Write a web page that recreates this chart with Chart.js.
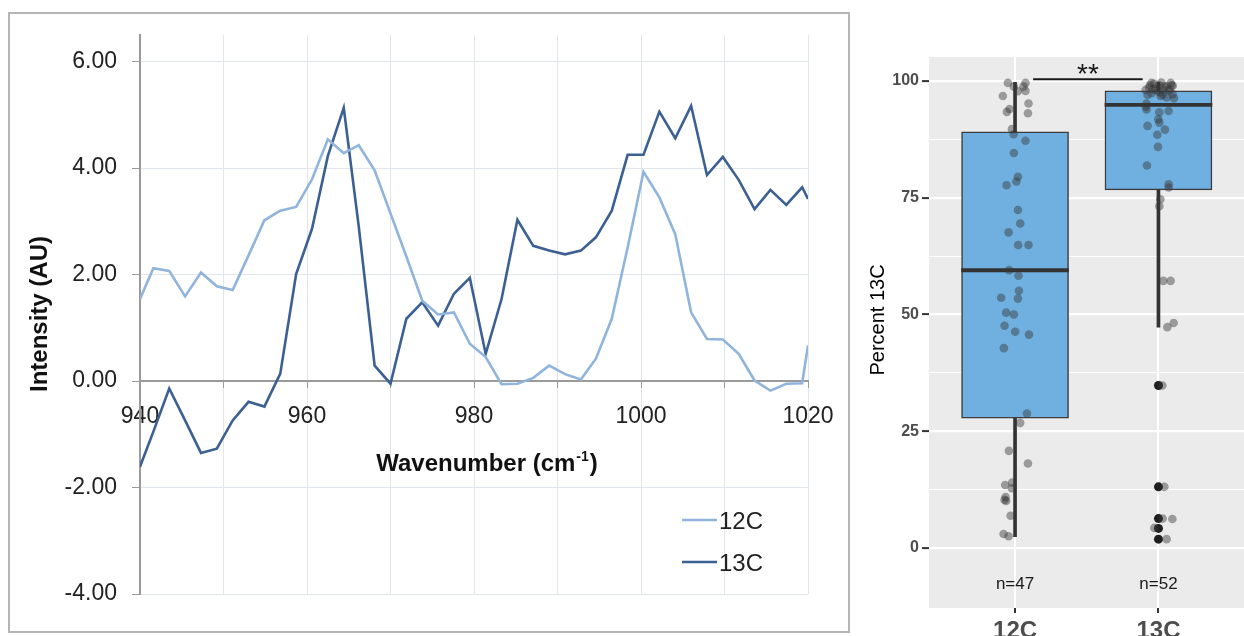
<!DOCTYPE html>
<html>
<head>
<meta charset="utf-8">
<script src="https://cdn.jsdelivr.net/npm/chart.js@4/dist/chart.umd.min.js"></script>
<style>
  html, body { margin: 0; padding: 0; background: #fff; }
  #wrap { position: relative; width: 1244px; height: 636px; overflow: hidden; }
  #spectrum { position: absolute; left: 0; top: 0; }
  #boxes { position: absolute; left: 855px; top: 0; }
</style>
</head>
<body>
<div id="wrap">
  <canvas id="spectrum" width="855" height="636"></canvas>
  <canvas id="boxes" width="394" height="636"></canvas>
</div>
<script>
// Spectrum data (left panel)
const wavenumbers = [940.0, 941.6, 943.5, 945.4, 947.3, 949.2, 951.1, 953.0, 954.9, 956.8,
  958.7, 960.6, 962.5, 964.4, 966.2, 968.1, 970.0, 971.9, 973.8, 975.7,
  977.6, 979.5, 981.4, 983.3, 985.2, 987.1, 989.0, 990.9, 992.8, 994.6,
  996.5, 998.4, 1000.3, 1002.2, 1004.1, 1006.0, 1007.9, 1009.8, 1011.7, 1013.6,
  1015.5, 1017.4, 1019.3, 1020.0];
const intensity12C = [1.54, 2.12, 2.07, 1.59, 2.04, 1.78, 1.71, 2.36, 3.02, 3.20,
  3.27, 3.79, 4.54, 4.28, 4.43, 3.96, 3.15, 2.34, 1.51, 1.25,
  1.29, 0.70, 0.45, -0.06, -0.05, 0.06, 0.29, 0.13, 0.03, 0.42,
  1.17, 2.51, 3.93, 3.45, 2.76, 1.29, 0.79, 0.78, 0.51, 0.01,
  -0.18, -0.05, -0.04, 0.67];
const intensity13C = [-1.61, -0.95, -0.14, -0.74, -1.35, -1.27, -0.74, -0.39, -0.48, 0.14,
  2.01, 2.86, 4.23, 5.13, 2.90, 0.29, -0.05, 1.17, 1.48, 1.04,
  1.64, 1.94, 0.51, 1.54, 3.03, 2.54, 2.45, 2.38, 2.45, 2.70,
  3.20, 4.25, 4.25, 5.06, 4.56, 5.17, 3.87, 4.21, 3.78, 3.23,
  3.59, 3.31, 3.64, 3.42];
const seriesNames = ['12C', '13C'];
const wavenumberGrid = [940, 950, 960, 970, 980, 990, 1000, 1010, 1020];
const wavenumberLabels = [940, 960, 980, 1000, 1020];
const intensityTicks = [-4, -2, 0, 2, 4, 6];

// Box plot data (right panel)
const groups = ['12C', '13C'];
const groupCounts = [47, 52];
const boxQ1 = [27.8, 76.7];
const boxMedian = [59.5, 94.9];
const boxQ3 = [89.1, 97.9];
const whiskerLow = [2.4, 47.3];
const whiskerHigh = [99.7, 99.7];
const percentTicks = [0, 25, 50, 75, 100];
const percentMinor = [12.5, 37.5, 62.5, 87.5];
// jittered observations: [offset from group centre, percent 13C]
const jitter12C = [[-0.050, 99.6], [-0.008, 98.8], [0.073, 99.6], [0.059, 98.8], [0.020, 97.8],
  [0.073, 97.9], [-0.085, 96.8], [0.094, 95.2], [-0.038, 94.0], [-0.057, 93.4],
  [0.090, 93.1], [-0.022, 89.7], [-0.010, 88.6], [0.073, 87.2], [-0.008, 84.6],
  [0.020, 79.5], [0.010, 78.5], [-0.059, 77.7], [0.020, 72.4], [0.036, 69.5],
  [-0.045, 67.6], [0.022, 64.9], [0.094, 64.9], [-0.041, 59.5], [0.024, 58.3],
  [0.027, 55.1], [-0.097, 53.6], [0.020, 53.4], [-0.062, 50.4], [-0.008, 50.0],
  [-0.073, 47.6], [0.001, 46.3], [0.097, 45.7], [-0.078, 42.8], [0.083, 28.8],
  [0.036, 26.8], [-0.043, 20.8], [0.090, 18.1], [-0.069, 13.5], [-0.020, 14.0],
  [-0.022, 12.8], [-0.066, 10.9], [-0.073, 10.3], [-0.062, 10.1], [-0.031, 6.9],
  [-0.080, 3.0], [-0.045, 2.5]];
const jitter13C = [[-0.048, 99.6], [0.085, 99.6], [-0.059, 99.1], [0.006, 99.1], [0.057, 98.8],
  [-0.090, 98.1], [-0.024, 98.4], [0.034, 98.1], [0.092, 99.1], [-0.076, 97.0],
  [-0.048, 97.4], [0.015, 96.8], [0.057, 96.5], [0.099, 97.2], [0.108, 96.3],
  [-0.083, 95.2], [-0.087, 94.5], [-0.083, 93.9], [0.006, 93.3], [0.071, 93.6],
  [-0.001, 91.8], [0.006, 91.1], [-0.076, 90.4], [0.045, 89.6], [-0.008, 88.5],
  [-0.003, 85.9], [-0.080, 81.9], [0.071, 77.9], [0.071, 77.2], [0.013, 74.7],
  [0.006, 73.2], [0.034, 57.2], [0.085, 57.2], [0.106, 48.2], [0.062, 47.3],
  [0.027, 34.8], [0.041, 13.1], [0.029, 6.3], [0.097, 6.2], [-0.029, 4.3],
  [0.057, 1.9], [-0.030, 99.4], [0.020, 99.7], [0.040, 98.9], [-0.010, 98.0],
  [0.070, 98.2], [-0.065, 98.6], [0.010, 97.6], [0.080, 98.0], [-0.040, 98.2],
  [0.030, 97.1], [0.100, 99.0]];
const outliers13C = [34.8, 13.1, 6.3, 4.2, 1.9];
const countLabelLevel = -7.8;
const signifFrom = 1.126, signifTo = 1.89, signifLevel = 100.4;
const signifText = '**';

const sans = "'Liberation Sans', Arial, Helvetica, sans-serif";
const lineColors = ['#90b4dc', '#3b6091'];

// Left panel: frame, axis titles, legend
const spectrumDecor = {
    id: 'spectrumDecor',
    beforeDraw(chart) {
        const ctx = chart.ctx;
        ctx.save();
        ctx.strokeStyle = '#b5b5b5';
        ctx.lineWidth = 2;
        ctx.strokeRect(9, 13, 840, 619);
        ctx.restore();
    },
    afterDraw(chart) {
        const ctx = chart.ctx;
        ctx.save();
        ctx.fillStyle = '#111';

        // y title
        ctx.translate(40, 314);
        ctx.rotate(-Math.PI / 2);
        ctx.font = 'bold 24px ' + sans;
        ctx.textAlign = 'center';
        ctx.textBaseline = 'middle';
        ctx.fillText('Intensity (AU)', 0, 0);
        ctx.setTransform(1, 0, 0, 1, 0, 0);

        // x title with superscript
        const main = 'Wavenumber (cm';
        const sup = '-1';
        ctx.font = 'bold 24px ' + sans;
        const w1 = ctx.measureText(main).width;
        const w3 = ctx.measureText(')').width;
        ctx.font = 'bold 14px ' + sans;
        const w2 = ctx.measureText(sup).width;
        let x = 486 - (w1 + w2 + w3) / 2;
        ctx.textAlign = 'left';
        ctx.textBaseline = 'alphabetic';
        ctx.font = 'bold 24px ' + sans;
        ctx.fillText(main, x, 471);
        ctx.font = 'bold 14px ' + sans;
        ctx.fillText(sup, x + w1 + 1, 461);
        ctx.font = 'bold 24px ' + sans;
        ctx.fillText(')', x + w1 + w2 + 2, 471);

        // legend
        ctx.font = '24px ' + sans;
        ctx.textBaseline = 'middle';
        chart.data.datasets.forEach((ds, i) => {
            const y = 520 + i * 42;
            ctx.strokeStyle = ds.borderColor;
            ctx.lineWidth = 2.5;
            ctx.beginPath();
            ctx.moveTo(682, y);
            ctx.lineTo(717, y);
            ctx.stroke();
            ctx.fillStyle = '#222';
            ctx.fillText(ds.label, 719, y + 2);
        });
        ctx.restore();
    }
};

new Chart(document.getElementById('spectrum'), {
    type: 'line',
    data: {
        datasets: [intensity12C, intensity13C].map((vals, i) => ({
            label: seriesNames[i],
            data: wavenumbers.map((w, j) => ({ x: w, y: vals[j] })),
            borderColor: lineColors[i],
            borderWidth: 2.6,
            pointRadius: 0,
            tension: 0
        }))
    },
    options: {
        responsive: false,
        animation: false,
        devicePixelRatio: 1,
        layout: { padding: { left: 0, right: 47, top: 35, bottom: 42 } },
        plugins: { legend: { display: false }, tooltip: { enabled: false } },
        scales: {
            x: {
                type: 'linear',
                min: 940,
                max: 1020,
                position: { y: 0 },
                afterBuildTicks: s => { s.ticks = wavenumberGrid.map(v => ({ value: v })); },
                ticks: {
                    callback: v => wavenumberLabels.includes(v) ? String(v) : '',
                    font: { family: sans, size: 23 },
                    color: '#222',
                    padding: 16,
                    maxRotation: 0,
                    autoSkip: false
                },
                grid: { color: '#e0e6eb', lineWidth: 1, tickLength: 6, tickColor: '#9a9a9a' },
                border: { color: '#9a9a9a', width: 2 }
            },
            y: {
                type: 'linear',
                min: -4,
                max: 6.5,
                afterBuildTicks: s => { s.ticks = intensityTicks.map(v => ({ value: v })); },
                afterFit: s => { s.width = 140; },
                ticks: {
                    callback: v => v.toFixed(2),
                    font: { family: sans, size: 23 },
                    color: '#222',
                    padding: 15
                },
                grid: { color: '#e0e6eb', lineWidth: 1, tickLength: 8, tickColor: '#9a9a9a' },
                border: { color: '#9a9a9a', width: 2 }
            }
        }
    },
    plugins: [spectrumDecor]
});

// Right panel: ggplot-style box plot
const boxDecor = {
    id: 'boxDecor',
    beforeDraw(chart) {
        const { ctx, chartArea } = chart;
        ctx.save();
        ctx.fillStyle = '#ebebeb';
        ctx.fillRect(chartArea.left, chartArea.top, chartArea.right - chartArea.left, chartArea.bottom - chartArea.top);
        ctx.restore();
    },
    afterDraw(chart) {
        const { ctx, scales } = chart;
        ctx.save();
        ctx.fillStyle = '#1a1a1a';
        ctx.font = '17px ' + sans;
        ctx.textAlign = 'center';
        ctx.textBaseline = 'middle';
        groupCounts.forEach((n, i) => {
            ctx.fillText('n=' + n, scales.x.getPixelForValue(i + 1), scales.y.getPixelForValue(countLabelLevel));
        });
        ctx.font = '28px ' + sans;
        ctx.textBaseline = 'alphabetic';
        ctx.fillText(signifText, scales.x.getPixelForValue((signifFrom + signifTo) / 2), scales.y.getPixelForValue(signifLevel) + 4);

        ctx.translate(23, 320);
        ctx.rotate(-Math.PI / 2);
        ctx.fillStyle = '#000';
        ctx.font = '20px ' + sans;
        ctx.textBaseline = 'middle';
        ctx.fillText('Percent 13C', 0, 0);
        ctx.restore();
    }
};

const groupX = groups.map((g, i) => i + 1);
const isMajor = v => percentTicks.includes(v);

new Chart(document.getElementById('boxes'), {
    type: 'bar',
    data: {
        datasets: [
            {
                type: 'scatter',
                data: jitter12C.map(p => ({ x: 1 + p[0], y: p[1] }))
                    .concat(jitter13C.map(p => ({ x: 2 + p[0], y: p[1] }))),
                pointRadius: 4.3,
                backgroundColor: 'rgba(55,55,55,0.45)',
                borderWidth: 0,
                order: 0
            },
            {
                type: 'line',
                data: [{ x: signifFrom, y: signifLevel }, { x: signifTo, y: signifLevel }],
                borderColor: '#1a1a1a',
                borderWidth: 2,
                pointRadius: 0,
                order: 0
            },
            {
                type: 'scatter',
                data: outliers13C.map(v => ({ x: 2, y: v })),
                pointRadius: 4.5,
                backgroundColor: '#1f1f1f',
                borderWidth: 0,
                order: 1
            },
            {
                data: groupX.map((x, i) => ({ x, y: [boxMedian[i] - 0.35, boxMedian[i] + 0.35] })),
                backgroundColor: '#333',
                barThickness: 107,
                grouped: false,
                order: 2
            },
            {
                data: groupX.map((x, i) => ({ x, y: [boxQ1[i], boxQ3[i]] })),
                backgroundColor: '#6fb0e0',
                borderColor: '#3c3c3c',
                borderWidth: 1.5,
                borderSkipped: false,
                barThickness: 107,
                grouped: false,
                order: 3
            },
            {
                data: groupX.map((x, i) => ({ x, y: [whiskerLow[i], whiskerHigh[i]] })),
                backgroundColor: '#333',
                barThickness: 3,
                grouped: false,
                order: 4
            }
        ]
    },
    options: {
        responsive: false,
        animation: false,
        devicePixelRatio: 1,
        layout: { padding: { left: 0, right: 0, top: 57, bottom: 0 } },
        plugins: { legend: { display: false }, tooltip: { enabled: false } },
        scales: {
            x: {
                type: 'linear',
                min: 0.4,
                max: 2.6,
                offset: false,
                afterBuildTicks: s => { s.ticks = groupX.map(v => ({ value: v })); },
                afterFit: s => { s.height = 28; },
                ticks: {
                    callback: v => groups[v - 1],
                    font: { family: sans, size: 24, weight: 'bold' },
                    color: '#4d4d4d',
                    padding: 4,
                    maxRotation: 0,
                    autoSkip: false
                },
                grid: { offset: false, color: '#ffffff', lineWidth: 2, tickLength: 5, tickColor: '#333', tickWidth: 2 },
                border: { display: false }
            },
            y: {
                type: 'linear',
                min: -12.85,
                max: 105.15,
                afterBuildTicks: s => {
                    s.ticks = percentTicks.concat(percentMinor).sort((a, b) => a - b).map(v => ({ value: v }));
                },
                afterFit: s => { s.width = 74; },
                ticks: {
                    callback: v => isMajor(v) ? String(v) : '',
                    font: { family: sans, size: 16, weight: 'bold' },
                    color: '#4d4d4d',
                    padding: 3
                },
                grid: {
                    color: '#ffffff',
                    lineWidth: c => isMajor(c.tick.value) ? 2.2 : 1,
                    tickColor: c => isMajor(c.tick.value) ? '#333' : 'rgba(0,0,0,0)',
                    tickWidth: 2,
                    tickLength: 7
                },
                border: { display: false }
            }
        }
    },
    plugins: [boxDecor]
});
</script>
</body>
</html>
